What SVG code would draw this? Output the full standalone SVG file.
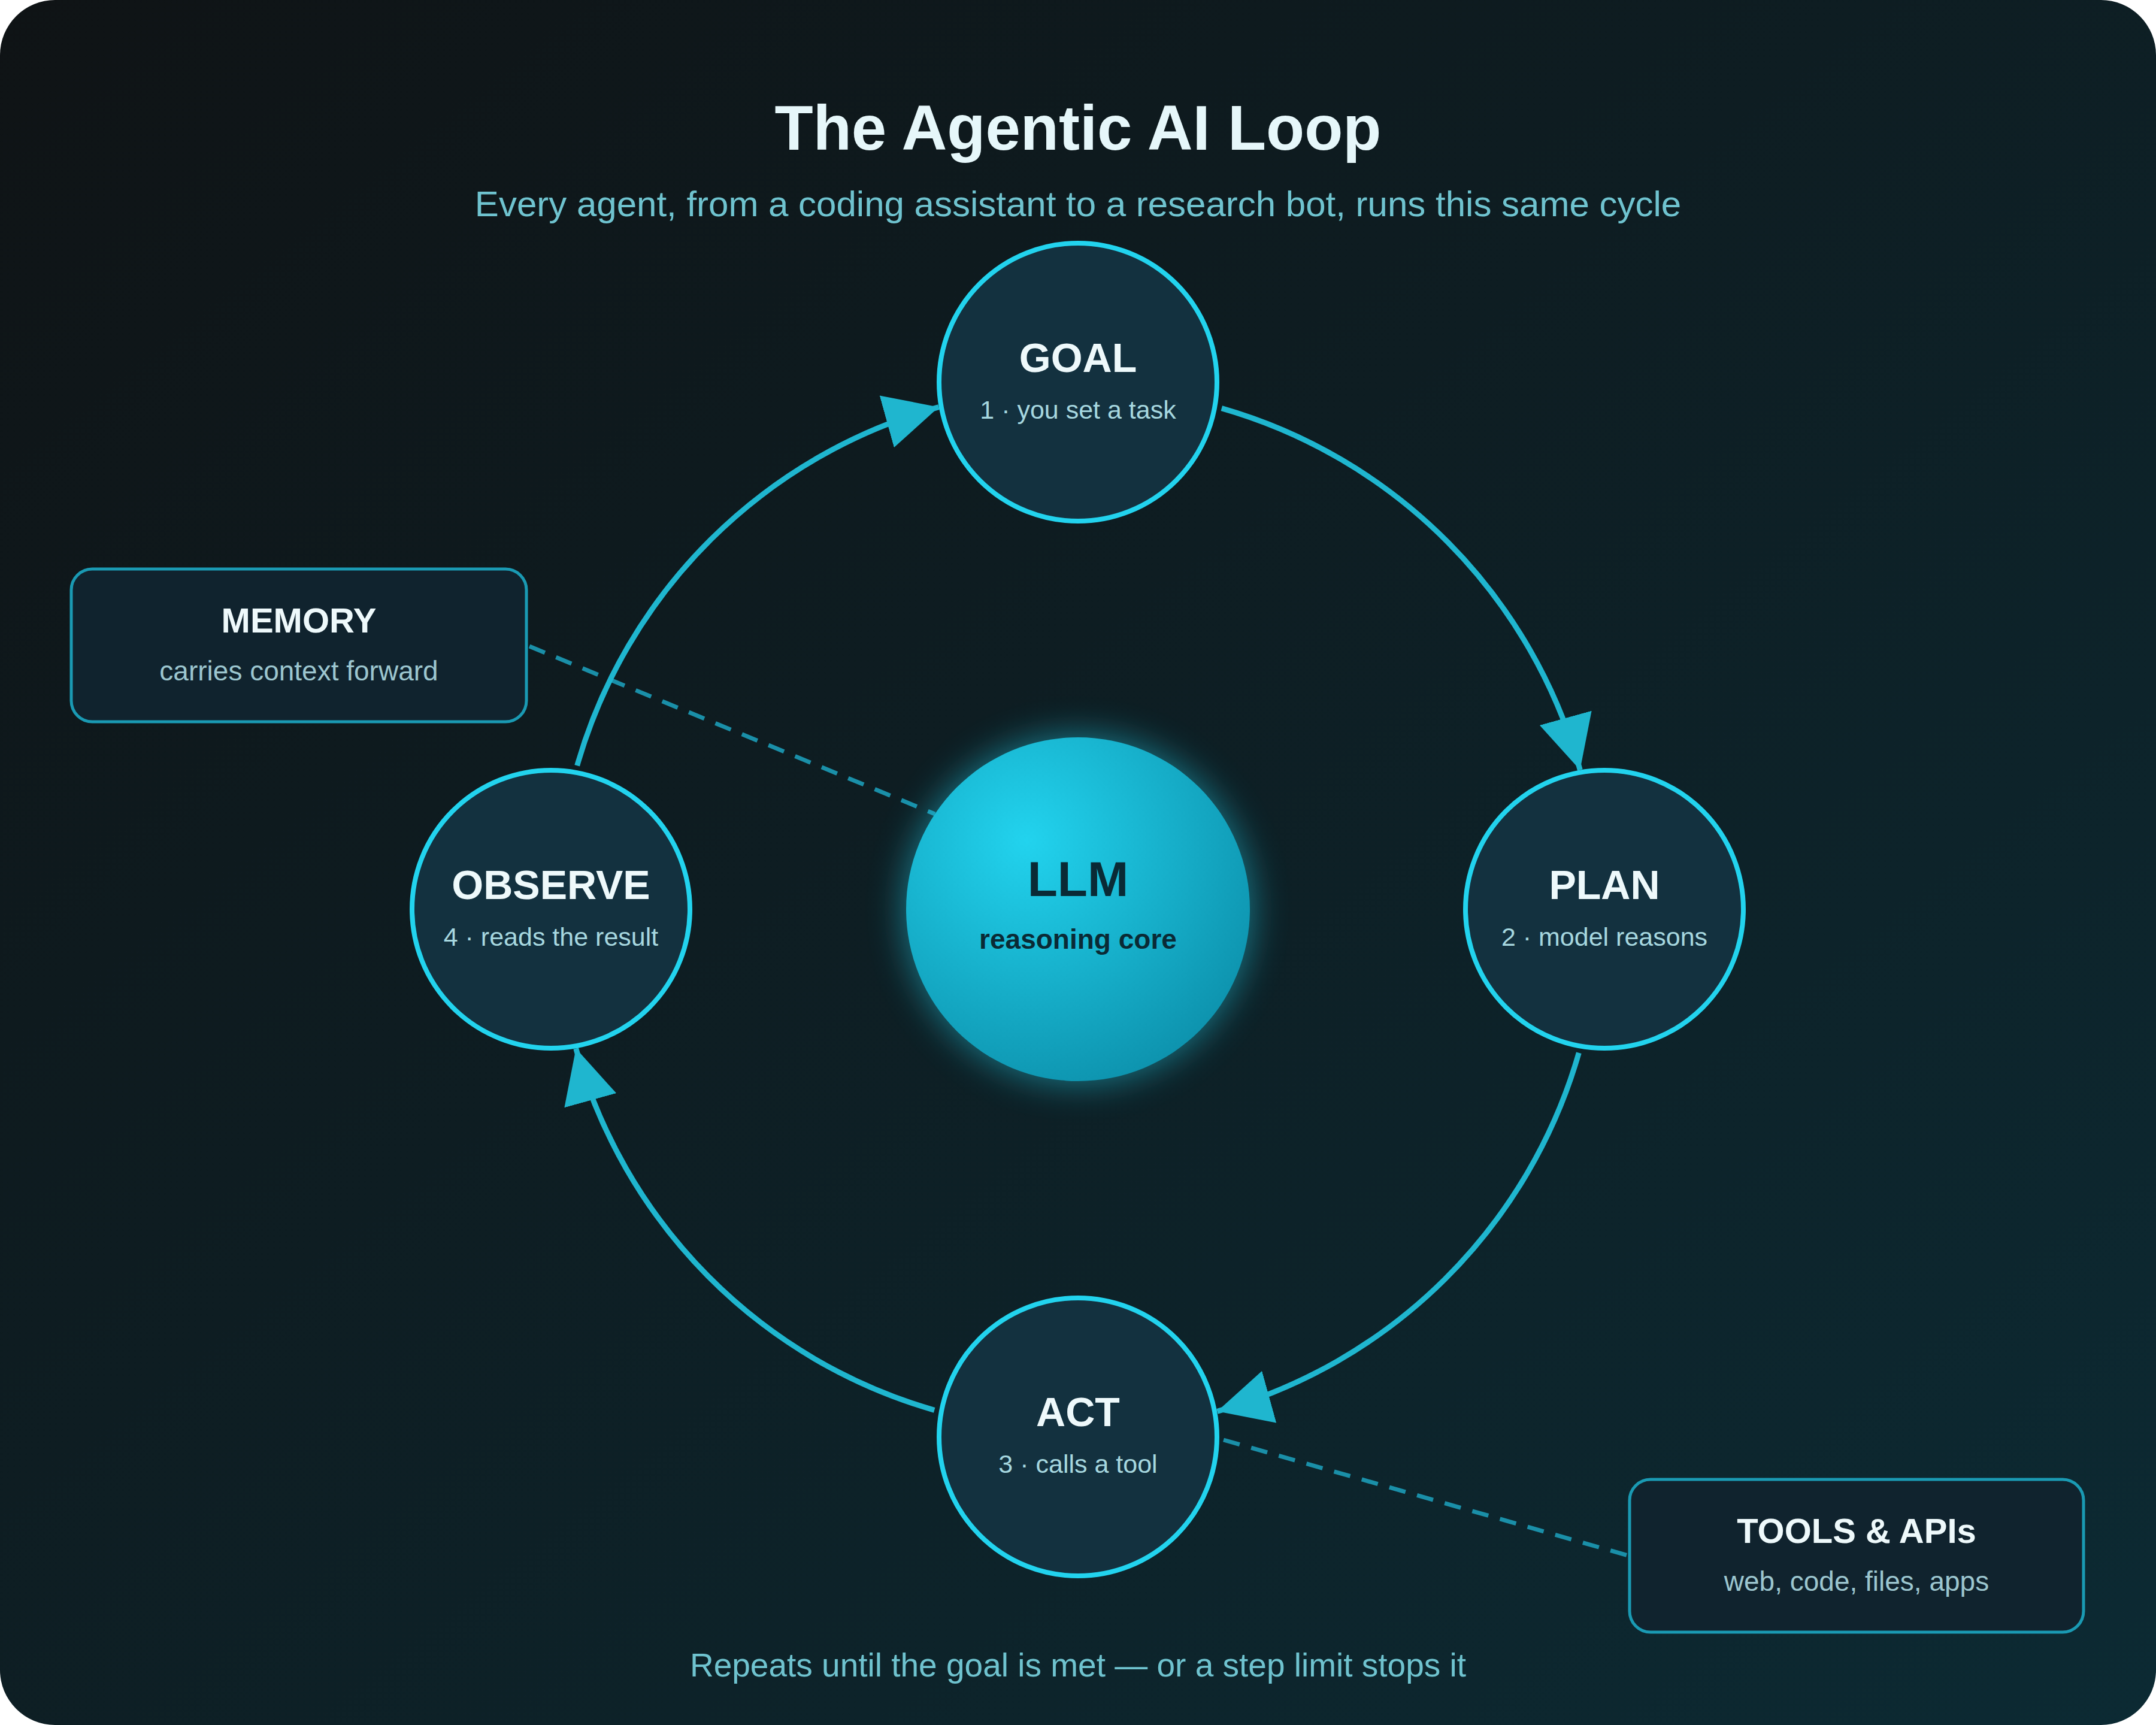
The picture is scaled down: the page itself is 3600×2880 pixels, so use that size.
<svg xmlns="http://www.w3.org/2000/svg" width="3600" height="2880" viewBox="0 0 3600 2880">
<defs>
<linearGradient id="bg" x1="0" y1="0" x2="1" y2="1">
<stop offset="0" stop-color="#0f1315"/><stop offset="1" stop-color="#0c2a33"/>
</linearGradient>
<radialGradient id="core" cx="0.35" cy="0.3" r="0.8">
<stop offset="0" stop-color="#22d3ee"/><stop offset="1" stop-color="#0c8faa"/>
</radialGradient>
<filter id="glow" x="-50%" y="-50%" width="200%" height="200%">
<feGaussianBlur stdDeviation="30"/>
</filter>
<marker id="ah" markerUnits="userSpaceOnUse" markerWidth="90" markerHeight="90" viewBox="0 0 10 10" refX="10" refY="5" orient="auto">
<path d="M0,0 L10,5 L0,10 z" fill="#1fb6cf"/>
</marker>
<style>
text{font-family:"Liberation Sans",Arial,sans-serif;text-anchor:middle;dominant-baseline:central}
.node{fill:#13313f;stroke:#22d3ee;stroke-width:8}
.lbl{font-size:68px;font-weight:bold;fill:#eef9fb}
.sub{font-size:43px;fill:#a6d7df}
.arc{fill:none;stroke:#1fb6cf;stroke-width:9;marker-end:url(#ah)}
.dash{fill:none;stroke:#1a8fa8;stroke-width:7;stroke-dasharray:28 20}
.box{fill:#10232e;stroke:#1a9ab3;stroke-width:5}
.bt{font-size:58px;font-weight:bold;fill:#eef9fb}
.bs{font-size:46px;fill:#9cc6cf}
</style>
</defs>
<rect x="0" y="0" width="3600" height="2880" rx="92" fill="url(#bg)"/>
<text x="1800" y="213" font-size="105" font-weight="bold" fill="#e6f7fa">The Agentic AI Loop</text>
<text x="1800" y="340" font-size="60" fill="#6fc3cf">Every agent, from a coding assistant to a research bot, runs this same cycle</text>
<g id="connectors">
<path class="dash" d="M884,1079 L1561,1359"/>
<path class="dash" d="M2043,2404 L2718,2597"/>
<path class="arc" d="M2039.8,681.7 A870,870 0 0 1 2638.3,1285.5"/>
<path class="arc" d="M2636.3,1757.8 A870,870 0 0 1 2032.5,2356.3"/>
<path class="arc" d="M1560.2,2354.3 A870,870 0 0 1 961.7,1750.5"/>
<path class="arc" d="M963.7,1278.2 A870,870 0 0 1 1567.5,679.7"/>
</g>
<g id="memory">
<rect class="box" x="119" y="950" width="760" height="255" rx="35"/>
<text class="bt" x="499" y="1035">MEMORY</text>
<text class="bs" x="499" y="1120">carries context forward</text>
</g>
<g id="tools">
<rect class="box" x="2721" y="2470" width="758" height="255" rx="35"/>
<text class="bt" x="3100" y="2555">TOOLS &amp; APIs</text>
<text class="bs" x="3100" y="2640">web, code, files, apps</text>
</g>
<g id="llm">
<circle cx="1800" cy="1518" r="290" fill="#22d3ee" opacity="0.5" filter="url(#glow)"/>
<circle cx="1800" cy="1518" r="287" fill="url(#core)"/>
<text x="1800" y="1467" font-size="82" font-weight="bold" fill="#0a2a35">LLM</text>
<text x="1800" y="1568" font-size="46" font-weight="bold" fill="#0a2a35">reasoning core</text>
</g>
<g id="goal">
<circle class="node" cx="1800" cy="638" r="232"/>
<text class="lbl" x="1800" y="597">GOAL</text>
<text class="sub" x="1800" y="684">1 · you set a task</text>
</g>
<g id="plan">
<circle class="node" cx="2679" cy="1518" r="232"/>
<text class="lbl" x="2679" y="1477">PLAN</text>
<text class="sub" x="2679" y="1564">2 · model reasons</text>
</g>
<g id="act">
<circle class="node" cx="1800" cy="2399" r="232"/>
<text class="lbl" x="1800" y="2357">ACT</text>
<text class="sub" x="1800" y="2444">3 · calls a tool</text>
</g>
<g id="observe">
<circle class="node" cx="920" cy="1518" r="232"/>
<text class="lbl" x="920" y="1477">OBSERVE</text>
<text class="sub" x="920" y="1564">4 · reads the result</text>
</g>
<text x="1800" y="2780" font-size="55" fill="#6fc3cf">Repeats until the goal is met — or a step limit stops it</text>
</svg>
